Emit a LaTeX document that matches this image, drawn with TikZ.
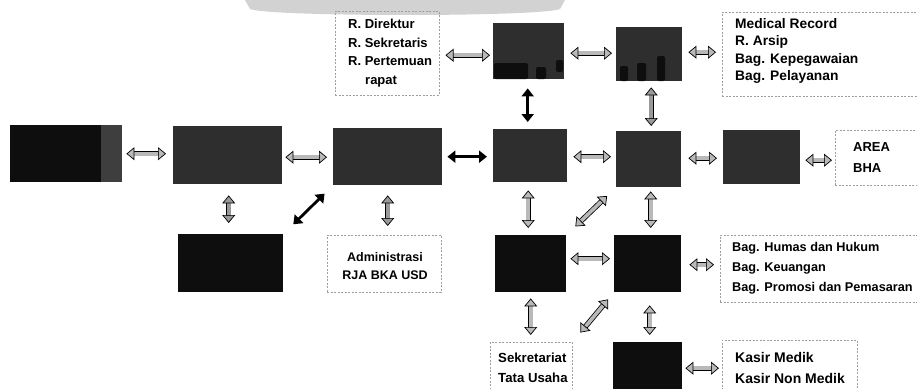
\documentclass[tikz,border=0pt]{standalone}
\usepackage{fontspec}
\setmainfont{Liberation Sans}
\usetikzlibrary{arrows.meta,calc}
\definecolor{dbox}{RGB}{46,46,46}
\definecolor{kbox}{RGB}{14,14,14}
\definecolor{stripc}{RGB}{62,62,62}
\definecolor{wm}{RGB}{210,210,210}
\tikzset{
  dkbox/.style={draw=none, fill=dbox, anchor=north west, inner sep=0pt},
  bkbox/.style={draw=none, fill=kbox, anchor=north west, inner sep=0pt},
  dashbox/.style={draw=gray!75, dash pattern=on 2pt off 1.5pt, line width=0.5pt, anchor=north west, inner sep=0pt},
  lbl/.style={anchor=west, align=left, inner sep=0pt, font=\fontsize{12.5}{18.5}\selectfont\bfseries},
  harr/.style={line width=3.6pt, draw=#1,
    {Triangle[length=8pt,width=13pt,line width=0.7pt,color=black,fill=#1]}-{Triangle[length=8pt,width=13pt,line width=0.7pt,color=black,fill=#1]},
    preaction={draw=black, line width=5.2pt, arrows=-, shorten >=6pt, shorten <=6pt}},
  harr/.default={gray!55},
  barr/.style={line width=2.8pt, draw=black,
    {Triangle[length=8pt,width=12pt]}-{Triangle[length=8pt,width=12pt]}},
}
\begin{document}
\begin{tikzpicture}[x=1pt,y=-1pt]
\useasboundingbox (0,0) rectangle (917,388);
\clip (0,0) rectangle (917,388);
% watermark banner (faint)
\fill[wm] (245,0) -- (565,0) -- (560,9) .. controls (540,17) and (270,17) .. (250,9) -- cycle;

% dark boxes
\node[bkbox, minimum width=91pt, minimum height=57pt] (L) at (10,125) {};
\node[draw=none, fill=stripc, anchor=north west, inner sep=0pt, minimum width=21pt, minimum height=57pt] (Ls) at (101,125) {};
\node[dkbox, minimum width=109pt, minimum height=58pt] (A) at (173,126) {};
\node[dkbox, minimum width=109pt, minimum height=57pt] (B) at (333,128) {};
\node[bkbox, minimum width=105pt, minimum height=58pt] (AU) at (178,234) {};
\node[dkbox, minimum width=71pt, minimum height=56pt] (C1) at (493,23) {};
\node[dkbox, minimum width=66pt, minimum height=54pt] (C2) at (616,27) {};
\node[dkbox, minimum width=74pt, minimum height=53pt] (D) at (493,129) {};
\node[dkbox, minimum width=65pt, minimum height=56pt] (E) at (616,131) {};
\node[dkbox, minimum width=77pt, minimum height=54pt] (F) at (723,130) {};
\node[bkbox, minimum width=71pt, minimum height=57pt] (G) at (495,235) {};
\node[bkbox, minimum width=67pt, minimum height=57pt] (H) at (614,235) {};
\node[bkbox, minimum width=69pt, minimum height=50pt] (I) at (613,342) {};
% darker smudges inside the top boxes
\begin{scope}[kbox]
  \fill[rounded corners=2pt] (494,63) rectangle (528,79);
  \fill[rounded corners=2pt] (536,67) rectangle (546,79);
  \fill[rounded corners=2pt] (556,60) rectangle (563,72);
  \fill[rounded corners=2pt] (620,66) rectangle (628,81);
  \fill[rounded corners=2pt] (637,63) rectangle (646,81);
  \fill[rounded corners=2pt] (657,56) rectangle (665,81);
\end{scope}

% dashed text boxes
\node[dashbox, minimum width=104pt, minimum height=84pt] (Dir) at (335,11) {};
\node[lbl, font=\fontsize{13}{18.5}\selectfont\bfseries] (DirT) at (348,53) {R. Direktur\\R. Sekretaris\\R. Pertemuan\\\hspace*{17pt}rapat};
\node[dashbox, minimum width=230pt, minimum height=84pt] (Med) at (722,12) {};
\node[lbl, font=\fontsize{13.8}{17.5}\selectfont\bfseries] (MedT) at (735,51) {Medical Record\\R. Arsip\\Bag. Kepegawaian\\Bag. Pelayanan};
\node[dashbox, minimum width=100pt, minimum height=55pt] (Ar) at (835,130) {};
\node[lbl, font=\fontsize{13}{21}\selectfont\bfseries] (ArT) at (853,158) {AREA\\BHA};
\node[dashbox, minimum width=114pt, minimum height=57pt] (Adm) at (327,235) {};
\node[lbl, align=center, anchor=center] (AdmT) at (385,266) {Administrasi\\RJA BKA USD};
\node[dashbox, minimum width=230pt, minimum height=67pt] (Bag) at (720,235) {};
\node[lbl, font=\fontsize{12.7}{20}\selectfont\bfseries] (BagT) at (732,268) {Bag. Humas dan Hukum\\Bag. Keuangan\\Bag. Promosi dan Pemasaran};
\node[dashbox, minimum width=82pt, minimum height=60pt] (Sek) at (490,342) {};
\node[lbl, font=\fontsize{13.2}{20}\selectfont\bfseries] (SekT) at (498,368) {Sekretariat\\Tata Usaha};
\node[dashbox, minimum width=135pt, minimum height=60pt] (Kas) at (722,340) {};
\node[lbl, font=\fontsize{14}{21}\selectfont\bfseries] (KasT) at (735,368) {Kasir Medik\\Kasir Non Medik};

% connectors
\draw[harr] ($(Ls.east)+(4,0)$) -- ($(Ls.east -| A.west)+(-7,0)$);
\draw[harr] ($(A.east)+(3,2)$) -- ($(A.east -| B.west)+(-6,2)$);
\draw[barr] ($(B.east)+(5,0)$) -- ($(B.east -| D.west)+(-6,0)$);
\draw[harr] ($(D.east)+(6,1)$) -- ($(D.east -| E.west)+(-5,1)$);
\draw[harr] ($(E.east)+(7,-1)$) -- ($(E.east -| F.west)+(-6,-1)$);
\draw[harr] ($(F.east)+(5,3)$) -- ($(F.east -| Ar.west)+(-3,3)$);
\draw[harr] ($(Dir.east)+(6,2)$) -- ($(Dir.east -| C1.west)+(-3,2)$);
\draw[harr] ($(C1.east)+(6,2)$) -- ($(C1.east -| C2.west)+(-4,2)$);
\draw[harr] ($(C2.east)+(6,-2)$) -- ($(C2.east -| Med.west)+(-6,-2)$);
\draw[barr] ($(C1.south)+(-1,9)$) -- ($(C1.south |- D.north)+(-1,-7)$);
\draw[harr={gray!80}] ($(C2.south)+(2,6)$) -- ($(C2.south |- E.north)+(2,-5)$);
\draw[harr={gray!80}] ($(A.south)+(1,11)$) -- ($(A.south |- AU.north)+(1,-11)$);
\draw[barr] ($(B.south west)!0.17!(AU.north east)$) -- ($(B.south west)!0.8!(AU.north east)$);
\draw[harr={gray!80}] ($(B.south)+(0,10)$) -- ($(B.south |- Adm.north)+(0,-9)$);
\draw[harr] ($(D.south)+(-2,8)$) -- ($(D.south |- G.north)+(-2,-7)$);
\draw[harr] ($(E.south west)!0.18!(G.north east)$) -- ($(E.south west)!0.82!(G.north east)$);
\draw[harr] ($(E.south)+(2,4)$) -- ($(E.south |- H.north)+(2,-7)$);
\draw[harr] ($(G.east)+(4,-5)$) -- ($(G.east -| H.west)+(-4,-5)$);
\draw[harr] ($(H.east)+(8,1)$) -- ($(H.east -| Bag.west)+(-6,1)$);
\draw[harr] ($(G.south)+(0,6)$) -- ($(G.south |- Sek.north)+(0,-7)$);
\draw[harr] ($(Sek.north east)!0.19!(H.south west)$) -- ($(Sek.north east)!0.86!(H.south west)$);
\draw[harr] ($(H.south)+(2,13)$) -- ($(H.south |- I.north)+(2,-7)$);
\draw[harr] ($(I.east)+(3,1)$) -- ($(I.east -| Kas.west)+(-3,1)$);
\end{tikzpicture}
\end{document}
